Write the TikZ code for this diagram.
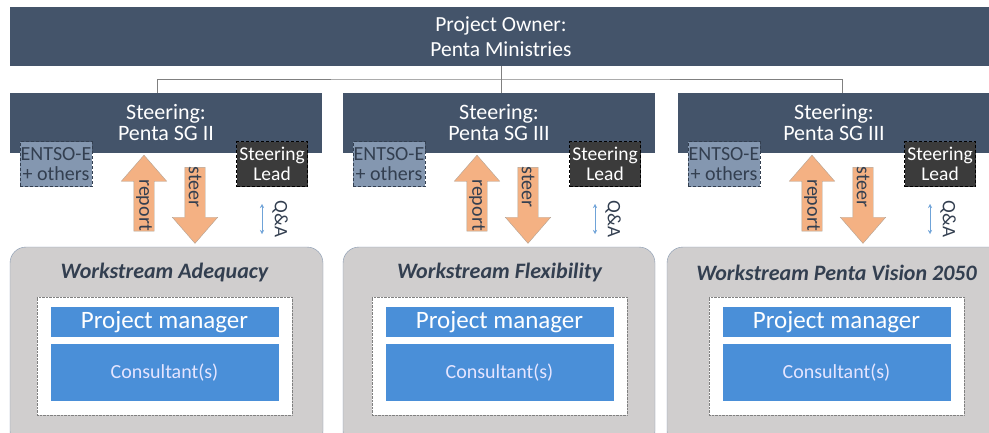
\documentclass[tikz,border=0pt]{standalone}
\usepackage{fontspec}
\setmainfont{Carlito}
\usetikzlibrary{arrows.meta,%
                shapes.arrows}

\definecolor{slate}{HTML}{44546A}
\definecolor{darktitle}{HTML}{333F50}
\definecolor{wsgray}{HTML}{D0CECE}
\definecolor{wsline}{HTML}{8497B0}
\definecolor{teamblue}{HTML}{4A8FD8}
\definecolor{entsofill}{HTML}{8497B0}
\definecolor{leadfill}{HTML}{3B3B3B}
\definecolor{arrowfill}{HTML}{F4B183}
\definecolor{arrowline}{HTML}{B3A394}
\definecolor{qablue}{HTML}{6FA3D8}

\begin{document}
\begin{tikzpicture}[x = 1pt, y = -1pt]
  \tikzstyle{every node} = [inner sep = 0,
                            align = center]
\tikzset{headbox/.style = {fill = slate, text = white, font = \fontsize{21.5}{25}\selectfont},
         sgbox/.style = {fill = slate, text = white, font = \fontsize{22}{21}\selectfont},
         entso/.style = {fill = entsofill, draw = darktitle, densely dashed, text = darktitle,
                          font = \fontsize{20}{20}\selectfont},
         lead/.style = {fill = leadfill, draw = black, densely dashed, text = white,
                        font = \fontsize{19.5}{20}\selectfont},
         wsbox/.style = {fill = wsgray, draw = wsline, rounded corners = 16pt},
         wstitle/.style = {text = darktitle, font = \fontsize{22}{22}\selectfont\bfseries\itshape},
         teambox/.style = {fill = white, draw = gray, densely dotted},
         pmbox/.style = {fill = teamblue, text = white, font = \fontsize{25}{25}\selectfont},
         consbox/.style = {fill = teamblue, text = blue!10, font = \fontsize{20}{20}\selectfont},
         bigarrow/.style = {shape = single arrow, fill = arrowfill, draw = arrowline,
                            rotate = -90, minimum height = 76, minimum width = 45,
                            single arrow head extend = 12.5pt, single arrow tip angle = 82,
                            text height = 14pt, text depth = 4pt, inner ysep = 1pt},
         arrowtext/.style = {rotate = -90, text = darktitle, font = \fontsize{20}{20}\selectfont},
         qa/.style = {draw = qablue, {Stealth[length=4pt,width=4pt]}-{Stealth[length=4pt,width=4pt]}},
         qalabel/.style = {rotate = -90, text = darktitle, font = \fontsize{19}{19}\selectfont},
         link/.style = {draw = gray, thin}}
\clip (0,0) rectangle (989,432);
\fill[white] (0,0) rectangle (989,432);

\node[headbox, minimum width = 982, minimum height = 59] (owner) at (501,36.5) {Project Owner:\\Penta Ministries};

\foreach \x/\cx/\wsl/\wsr/\sg/\ws/\n in {10/164.5/10/323/II/Adequacy/a,
                                         343/499.5/343/655/III/Flexibility/b,
                                         678/836.5/667/1010/III/Penta Vision 2050/c}{
  % workstream
  \node[wsbox, minimum width = \wsr-\wsl, minimum height = 200] (ws\n) at ({(\wsl+\wsr)/2},347) {};
  \node[wstitle] (title\n) at (\cx,273) {Workstream \ws};
  \node[teambox, minimum width = 255, minimum height = 118] (team\n) at (\cx,356) {};
  \node[pmbox, minimum width = 228, minimum height = 30] (pm\n) at (\cx,322) {Project manager};
  \node[consbox, minimum width = 228, minimum height = 57] (cons\n) at (\cx,372.5) {Consultant(s)};
  % steering
  \node[sgbox, minimum width = 312, minimum height = 60] (sg\n) at (\x+156,123) {Steering:\\Penta SG \sg};
  \node[entso, minimum width = 72, minimum height = 45] (entso\n) at (\x+46,164) {ENTSO-E\\+ others};
  \node[lead, minimum width = 71, minimum height = 45] (lead\n) at (\x+262,164) {Steering\\Lead};
  \node[bigarrow, shape border rotate = 180] (rep\n) at (\x+134,199) {};
  \node[arrowtext] (reptext\n) at (\x+134,205) {report};
  \node[bigarrow] (stg\n) at (\x+185,199.5) {};
  \node[arrowtext] (stgtext\n) at (\x+185,187) {steer};
  \coordinate (qt\n) at (\x+252,204);
  \coordinate (qb\n) at (\x+252,234);
  \draw[qa] (qt\n) -- (qb\n);
  \node[qalabel] (qa\n) at (\x+270,219) {Q\&A};
}

\coordinate (bus) at (501,79);
\draw[link] (owner.south) -- (owner.south |- sgb.north);
\draw[link] ([xshift=-9pt]sga.north) |- (bus) -| ([xshift=8pt]sgc.north);

\end{tikzpicture}
\end{document}
